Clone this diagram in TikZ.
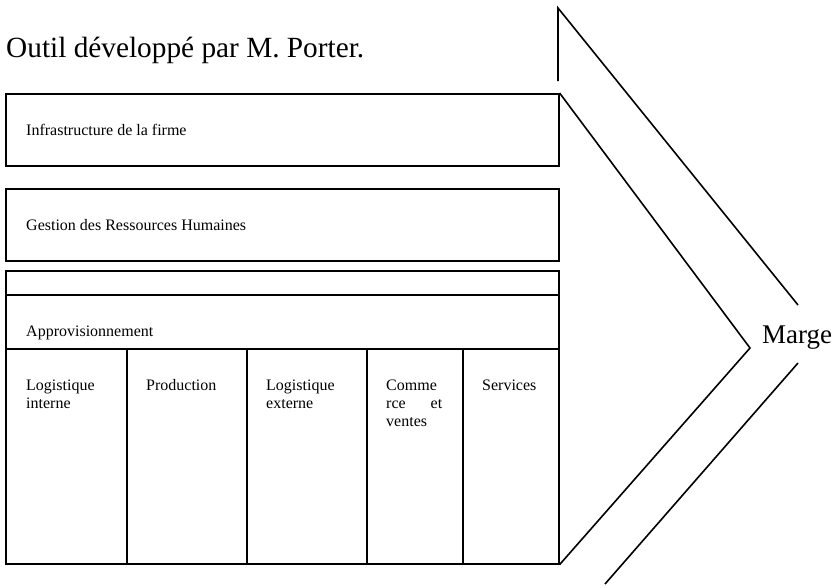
\documentclass[tikz,border=0pt]{standalone}
\usepackage{fontspec}
\setmainfont{Liberation Serif}
\begin{document}
\begin{tikzpicture}[x=1pt,y=-1pt,
  box/.style={draw, line width=1.6pt, inner sep=0pt, anchor=north west},
  lbl/.style={anchor=base west, inner sep=0pt, align=left, font=\fontsize{16}{18}\selectfont},
  ln/.style={line width=1.6pt, line join=miter}]
\useasboundingbox (0,0) rectangle (837,587);
% title
\node[anchor=base west, inner sep=0pt, font=\fontsize{29.3}{34}\selectfont] (title) at (6,57) {Outil développé par M. Porter.};
% support activities
\node[box, minimum width=553pt, minimum height=72pt] (infra) at (5,93) {};
\node[box, minimum width=553pt, minimum height=72pt] (grh) at (5,188) {};
\node[box, minimum width=553pt, minimum height=24pt] (strip) at (5,270) {};
\node[box, minimum width=553pt, minimum height=54pt] (appro) at (5,294) {};
% primary activities
\node[box, minimum width=121pt, minimum height=215pt] (c1) at (5,348) {};
\node[box, minimum width=120pt, minimum height=215pt] (c2) at (126,348) {};
\node[box, minimum width=120pt, minimum height=215pt] (c3) at (246,348) {};
\node[box, minimum width=96pt, minimum height=215pt] (c4) at (366,348) {};
\node[box, minimum width=96pt, minimum height=215pt] (c5) at (462,348) {};
% labels
\node[lbl] (tinfra) at (26,135) {Infrastructure de la firme};
\node[lbl] (tgrh) at (26,230) {Gestion des Ressources Humaines};
\node[lbl] (tappro) at (26,336) {Approvisionnement};
\node[lbl] (t1) at (26,408) {Logistique\\interne};
\node[lbl] (t2) at (146,390) {Production};
\node[lbl] (t3) at (266,408) {Logistique\\externe};
\node[lbl, text width=56pt] (t4) at (386,390) {Comme\\rce\hfill et\\ventes};
\node[lbl] (t5) at (482,390) {Services};
% chevron
\coordinate (overt) at (558,81);
\coordinate (otop) at (558,8);
\coordinate (oup) at (798,305);
\coordinate (olow) at (798,363);
\coordinate (obot) at (605,584);
\coordinate (iapex) at (750,348);
\draw[ln] (overt) -- (otop) -- (oup);
\draw[ln] (infra.north east) -- (iapex) -- (c5.south east);
\draw[ln] (olow) -- (obot);
\node[anchor=base west, inner sep=0pt, font=\fontsize{27}{32}\selectfont] (marge) at (762,343) {Marge};
\end{tikzpicture}
\end{document}
